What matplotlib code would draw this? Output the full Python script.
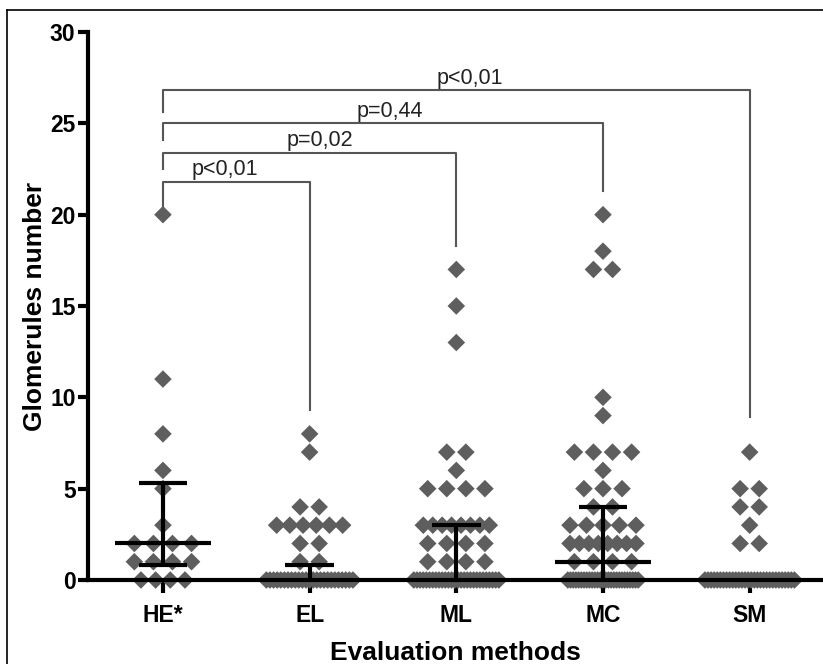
import numpy as np
import matplotlib
matplotlib.use("Agg")
import matplotlib.pyplot as plt
from matplotlib.lines import Line2D

plt.rcParams["font.family"] = ["Liberation Sans", "DejaVu Sans"]

# data
methods = ["HE*", "EL", "ML", "MC", "SM"]
he_vals = [20, 11, 8, 6, 5, 3, 2, 2, 2, 2, 1, 1, 1, 1, 0, 0, 0, 0]
el_vals = [8, 7, 4, 4, 3, 3, 3, 3, 3, 3, 2, 2, 1, 1] + [0] * 25
ml_vals = [17, 15, 13, 7, 7, 6, 5, 5, 5, 5, 3, 3, 3, 3, 3, 3, 3, 3,
           2, 2, 2, 2, 1, 1, 1, 1] + [0] * 28
mc_vals = [20, 18, 17, 17, 10, 9, 7, 7, 7, 7, 6, 5, 5, 5, 4, 4,
           3, 3, 3, 3, 3, 2, 2, 2, 2, 2, 2, 2, 2, 1, 1, 1, 1] + [0] * 27
sm_vals = [7, 5, 5, 4, 4, 3, 2, 2] + [0] * 30
groups = [he_vals, el_vals, ml_vals, mc_vals, sm_vals]

medians = [2, 0, 0, 1, 0]
q1 = [0.8, 0, 0, 0, 0]
q3 = [5.3, 0.8, 3, 4, 0]

p_labels = ["p<0,01", "p=0,02", "p=0,44", "p<0,01"]
p_targets = [1, 2, 3, 4]
bracket_levels = [21.8, 23.4, 25.0, 26.8]
left_drop = [20.2, 22.5, 24.1, 25.6]
right_drop = [9.3, 18.3, 21.3, 8.9]

grey = "#5e5e5e"

fig = plt.figure(figsize=(8.23, 6.64), dpi=100)
ax = fig.add_axes([88 / 823, 84 / 664, 735 / 823, 548 / 664])


def row_offsets(n, width):
    if n == 1:
        return np.array([0.0])
    step = min(0.13, width / (n - 1))
    return (np.arange(n) - (n - 1) / 2) * step


zero_width = [0.3, 0.59, 0.58, 0.48, 0.61]
for i, vals in enumerate(groups):
    vals = np.array(vals)
    for v in np.unique(vals):
        n = int((vals == v).sum())
        w = zero_width[i] if v == 0 else 0.45
        xs = i + row_offsets(n, w)
        ax.scatter(xs, np.full(n, v), marker="D", s=80, color=grey,
                   edgecolors="none", zorder=3, clip_on=False)

# median + interquartile bars
for i in range(len(methods)):
    if q3[i] > q1[i]:
        ax.plot([i, i], [q1[i], q3[i]], color="black", lw=3, zorder=4,
                solid_capstyle="butt")
        for q in (q1[i], q3[i]):
            if q > 0:
                ax.plot([i - 0.165, i + 0.165], [q, q], color="black", lw=3,
                        zorder=4, solid_capstyle="butt")
    if medians[i] > 0:
        ax.plot([i - 0.33, i + 0.33], [medians[i]] * 2, color="black", lw=3,
                zorder=4, solid_capstyle="butt")

# significance brackets
label_x = [0.42, 1.07, 1.55, 2.09]
for k in range(len(p_labels)):
    j = p_targets[k]
    lev = bracket_levels[k]
    ax.plot([0, 0, j, j], [left_drop[k], lev, lev, right_drop[k]],
            color="#555555", lw=1.5, zorder=2)
    ax.text(label_x[k], lev + 0.1, p_labels[k], ha="center", va="bottom",
            fontsize=15.5, color="#222222")

ax.set_xlim(-0.511, 4.5)
ax.set_ylim(0, 30)
ax.set_yticks([0, 5, 10, 15, 20, 25, 30])
ax.set_xticks(range(len(methods)))
ax.set_xticklabels(methods, fontsize=16.5, fontweight="bold")
for lab in ax.get_yticklabels():
    lab.set_fontsize(16.5)
    lab.set_fontweight("bold")
ax.tick_params(axis="y", length=7, width=3, pad=2)
ax.tick_params(axis="x", length=9, width=3, pad=8)
for s in ["top", "right"]:
    ax.spines[s].set_visible(False)
for s in ["left", "bottom"]:
    ax.spines[s].set_linewidth(3)
    ax.spines[s].set_zorder(5)
ax.set_xlabel("Evaluation methods", fontsize=19, fontweight="bold", labelpad=10)
ax.set_ylabel("Glomerules number", fontsize=19, fontweight="bold", labelpad=2)

# outer frame of the original figure
fig.add_artist(Line2D([7 / 823, 7 / 823], [0, 654 / 664], color="black", lw=1.2))
fig.add_artist(Line2D([7 / 823, 1], [654 / 664, 654 / 664], color="black", lw=1.2))

fig.savefig("out.png", dpi=100)
